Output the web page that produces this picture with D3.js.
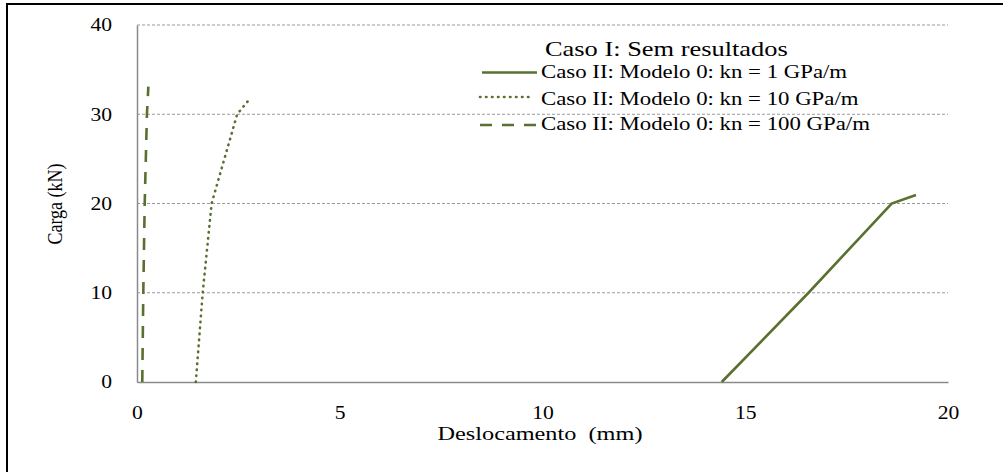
<!DOCTYPE html>
<html><head><meta charset="utf-8">
<script src="https://cdn.jsdelivr.net/npm/d3@7"></script>
<style>body{margin:0;background:#fff}svg{display:block}text{font-family:"Liberation Serif","Times New Roman",serif;fill:#000}</style>
</head><body>
<svg id="c" width="1003" height="472"></svg>
<script>
const xTicks = [0, 5, 10, 15, 20];
const yTicks = [0, 10, 20, 30, 40];
const xTitle = "Deslocamento  (mm)";
const yTitle = "Carga (kN)";
const legendTitle = "Caso I: Sem resultados";
const seriesNames = ["Caso II: Modelo 0: kn = 1 GPa/m", "Caso II: Modelo 0: kn = 10 GPa/m", "Caso II: Modelo 0: kn = 100 GPa/m"];
const kn1X = [14.42, 16.56, 18.61, 19.21];
const kn1Y = [0, 10, 20, 20.95];
const kn10X = [1.45, 1.62, 1.84, 2.47, 2.74];
const kn10Y = [0, 10, 20, 30, 31.5];
const kn100X = [0.13, 0.155, 0.19, 0.245, 0.28];
const kn100Y = [0, 10, 20, 30, 33.1];

const green = "#5a7030";
const styles = [
  {dash: null, cap: "butt", w: 2.6},
  {dash: "0.5,5.5", cap: "round", w: 2.6},
  {dash: "12,10", cap: "butt", w: 2.6}
];
const series = [[kn1X, kn1Y], [kn10X, kn10Y], [kn100X, kn100Y]];

const svg = d3.select("#c");
const SX = 1.2;
function stretch(sel, f) {
  sel.each(function() {
    const w = this.getComputedTextLength();
    d3.select(this).attr("textLength", w * (f || SX)).attr("lengthAdjust", "spacingAndGlyphs");
  });
}

// outer frame (only top and left edges are visible)
svg.append("rect").attr("x", 7).attr("y", 4).attr("width", 1200).attr("height", 700)
  .attr("fill", "none").attr("stroke", "#000").attr("stroke-width", 2);

const x = d3.scaleLinear().domain([0, 20]).range([137, 948]);
const y = d3.scaleLinear().domain([0, 40]).range([382, 25]);

// gridlines
svg.append("g").selectAll("line").data(yTicks.filter(d => d > 0)).join("line")
  .attr("x1", x(0)).attr("x2", x(20)).attr("y1", d => y(d)).attr("y2", d => y(d))
  .attr("stroke", "#9a9a9a").attr("stroke-width", 1.2).attr("stroke-dasharray", "3,2");

// axes
const gx = svg.append("g").attr("transform", `translate(0,${y(0)})`)
  .call(d3.axisBottom(x).tickValues(xTicks).tickSize(0).tickPadding(24));
gx.select(".domain").attr("stroke", "#8a8a8a").attr("stroke-width", 1.5);
gx.selectAll("text").attr("font-size", 18).attr("font-family", "Liberation Serif").attr("fill", "#111").call(stretch);

const gy = svg.append("g").attr("transform", `translate(${x(0)},0)`)
  .call(d3.axisLeft(y).tickValues(yTicks).tickSize(0).tickPadding(25));
gy.select(".domain").attr("stroke", "#8a8a8a").attr("stroke-width", 1.5);
gy.selectAll("text").attr("font-size", 18).attr("font-family", "Liberation Serif").attr("fill", "#111").call(stretch);

// series
const line = d3.line().x(d => x(d[0])).y(d => y(d[1]));
series.forEach((s, i) => {
  const pts = s[0].map((v, j) => [v, s[1][j]]);
  svg.append("path").datum(pts).attr("d", line).attr("fill", "none")
    .attr("stroke", green).attr("stroke-width", styles[i].w)
    .attr("stroke-linecap", styles[i].cap)
    .attr("stroke-dasharray", styles[i].dash);
});

// axis titles
svg.append("text").attr("x", 540).attr("y", 440).attr("text-anchor", "middle")
  .attr("font-size", 18).style("white-space", "pre").attr("fill", "#111").text(xTitle)
  .attr("textLength", 205).attr("lengthAdjust", "spacingAndGlyphs");
svg.append("g").attr("transform", "translate(62,204) scale(1.2,1) rotate(-90)")
  .append("text").attr("text-anchor", "middle").attr("font-size", 18).attr("fill", "#111").text(yTitle);

// legend
svg.append("text").attr("x", 545).attr("y", 56).attr("font-size", 22).attr("fill", "#111").text(legendTitle).call(stretch);
const legY = [72.5, 97, 125];
const legBase = [77.5, 104.5, 129.5];
seriesNames.forEach((n, i) => {
  svg.append("line").attr("x1", i === 0 ? 482 : 480).attr("x2", i === 1 ? 534 : 537)
    .attr("y1", legY[i]).attr("y2", legY[i])
    .attr("stroke", green).attr("stroke-width", styles[i].w)
    .attr("stroke-linecap", styles[i].cap).attr("stroke-dasharray", styles[i].dash);
  svg.append("text").attr("x", 541).attr("y", legBase[i]).attr("font-size", 19).attr("fill", "#111").text(n).call(stretch);
});
</script>
</body></html>
